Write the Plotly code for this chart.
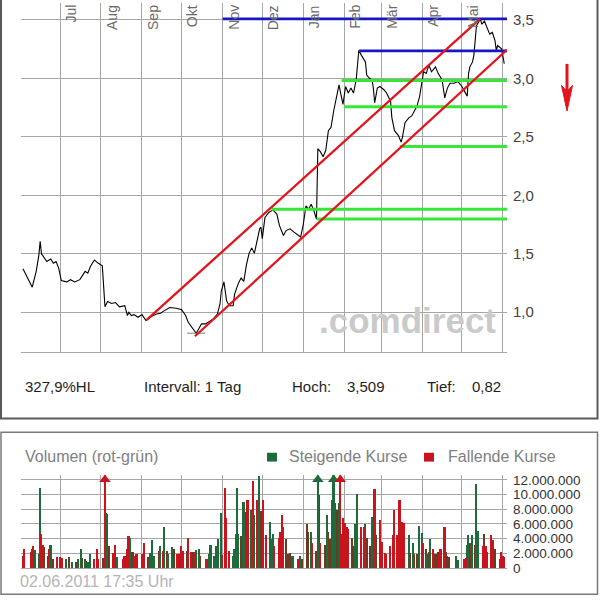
import plotly.graph_objects as go

W, H = 600, 611
def fx(p): return p / W
def fy(p): return 1 - p / H

FONT = "Liberation Sans, Arial, sans-serif"

# ---------------- data ----------------
price_dates = ["2010-06-03","2010-06-10","2010-06-13","2010-06-15","2010-06-16","2010-06-17","2010-06-21","2010-06-24","2010-06-26","2010-06-28","2010-06-30",
"2010-07-02","2010-07-06","2010-07-09","2010-07-12","2010-07-16","2010-07-20","2010-07-22","2010-07-24","2010-07-27","2010-07-30",
"2010-08-02","2010-08-03","2010-08-04","2010-08-06","2010-08-09","2010-08-12","2010-08-15","2010-08-19","2010-08-21","2010-08-22","2010-08-24","2010-08-26","2010-08-29",
"2010-09-01","2010-09-04","2010-09-08","2010-09-12","2010-09-15","2010-09-17","2010-09-22","2010-09-27",
"2010-10-01","2010-10-04","2010-10-06","2010-10-09","2010-10-12","2010-10-14","2010-10-16","2010-10-19","2010-10-21","2010-10-25","2010-10-28","2010-10-30","2010-10-31",
"2010-11-02","2010-11-04","2010-11-06","2010-11-09","2010-11-10","2010-11-13","2010-11-15","2010-11-17","2010-11-19","2010-11-21","2010-11-23","2010-11-25","2010-11-27","2010-11-29","2010-11-30",
"2010-12-01","2010-12-03","2010-12-06","2010-12-09","2010-12-12","2010-12-14","2010-12-17","2010-12-19","2010-12-22","2010-12-25","2010-12-28","2010-12-30",
"2011-01-01","2011-01-03","2011-01-05","2011-01-07","2011-01-09","2011-01-11","2011-01-12","2011-01-14","2011-01-16","2011-01-18","2011-01-20","2011-01-22","2011-01-24","2011-01-26","2011-01-27","2011-01-28","2011-01-30","2011-01-31",
"2011-02-02","2011-02-04","2011-02-06","2011-02-08","2011-02-10","2011-02-11","2011-02-12","2011-02-14","2011-02-17","2011-02-18","2011-02-20","2011-02-22","2011-02-23","2011-02-24","2011-02-26","2011-02-28",
"2011-03-03","2011-03-05","2011-03-08","2011-03-09","2011-03-11","2011-03-14","2011-03-16","2011-03-17","2011-03-19","2011-03-22","2011-03-24","2011-03-26","2011-03-28","2011-03-30",
"2011-04-01","2011-04-02","2011-04-04","2011-04-06","2011-04-08","2011-04-11","2011-04-13","2011-04-16","2011-04-18","2011-04-20","2011-04-22","2011-04-25","2011-04-28",
"2011-05-01","2011-05-03","2011-05-05","2011-05-06","2011-05-07","2011-05-09","2011-05-10","2011-05-11","2011-05-12","2011-05-15","2011-05-16","2011-05-18","2011-05-20","2011-05-22","2011-05-24","2011-05-26","2011-05-27","2011-05-28","2011-05-31",
"2011-06-01","2011-06-02"]
price_values = [1.371,1.214,1.349,1.488,1.606,1.500,1.433,1.455,1.418,1.433,1.377,
1.270,1.259,1.278,1.259,1.278,1.349,1.334,1.391,1.446,1.418,
1.396,1.223,1.046,1.091,1.074,1.082,1.046,1.055,0.971,0.998,0.971,0.979,0.956,
0.979,0.929,0.962,0.984,0.990,1.007,1.040,1.034,
1.020,0.971,0.914,0.872,0.820,0.858,0.900,0.900,0.914,0.942,0.984,1.068,1.181,
1.259,1.097,1.055,1.055,1.152,1.250,1.292,1.264,1.404,1.503,1.550,1.503,1.614,1.713,1.727,
1.629,1.811,1.853,1.875,1.839,1.740,1.656,1.698,1.713,1.685,1.656,1.643,
1.750,1.909,1.881,1.923,1.867,1.797,2.399,2.371,2.329,2.385,2.553,2.581,2.721,2.847,2.889,2.945,2.833,2.777,
2.931,2.875,2.917,2.875,2.987,3.141,3.239,3.197,3.141,3.029,3.001,2.987,2.917,2.791,2.917,2.931,
2.903,2.875,2.805,2.665,2.553,2.511,2.455,2.497,2.623,2.665,2.679,2.721,2.763,2.847,
2.973,3.057,3.043,3.113,3.057,3.099,3.043,2.987,2.833,2.917,2.959,2.959,2.973,
2.931,2.889,2.847,3.043,3.099,3.141,3.197,3.323,3.450,3.509,3.463,3.490,3.435,3.379,3.393,3.323,3.239,3.281,3.253,
3.197,3.127]

# trend channel (red)
channel_upper_dates = ["2010-09-04 14:00", "2011-05-14 17:00"]
channel_upper_values = [0.934, 3.509]
channel_lower_dates = ["2010-10-11 02:00", "2011-06-04 02:00"]
channel_lower_values = [0.794, 3.245]
# horizontal resistance (blue) and support (green) lines
line_end_date = "2011-06-04 02:00"
resistance_starts = ["2010-11-01", "2011-02-12"]
resistance_levels = [3.509, 3.235]
support_starts = ["2011-01-30", "2011-02-01", "2011-03-15", "2010-12-08", "2011-01-11"]
support_levels = [2.981, 2.757, 2.418, 1.881, 1.797]

month_starts = ["2010-07-01","2010-08-01","2010-09-01","2010-10-01","2010-11-01","2010-12-01",
                "2011-01-01","2011-02-01","2011-03-01","2011-04-01","2011-05-01"]
month_labels = ["Jul","Aug","Sep","Okt","Nov","Dez","Jan","Feb","Mär","Apr","Mai"]
price_ticks = [1.0, 1.5, 2.0, 2.5, 3.0, 3.5]
vol_ticks = [0, 2e6, 4e6, 6e6, 8e6, 10e6, 12e6]

vol_dates = ["2010-06-03","2010-06-04","2010-06-09","2010-06-10","2010-06-11","2010-06-12","2010-06-15","2010-06-16","2010-06-17","2010-06-18","2010-06-19","2010-06-22","2010-06-23","2010-06-24","2010-06-26","2010-06-29",
"2010-07-01","2010-07-03","2010-07-06","2010-07-08","2010-07-10","2010-07-13","2010-07-15","2010-07-17","2010-07-18","2010-07-20","2010-07-21","2010-07-22","2010-07-24","2010-07-27","2010-07-29","2010-07-30",
"2010-08-03","2010-08-04","2010-08-05","2010-08-06","2010-08-07","2010-08-10","2010-08-12","2010-08-13","2010-08-18","2010-08-19","2010-08-21","2010-08-22","2010-08-23","2010-08-25","2010-08-26","2010-08-28",
"2010-09-01","2010-09-02","2010-09-03","2010-09-06","2010-09-07","2010-09-09","2010-09-10","2010-09-14","2010-09-15","2010-09-17","2010-09-18","2010-09-20","2010-09-21","2010-09-24","2010-09-25","2010-09-28","2010-09-29",
"2010-10-01","2010-10-02","2010-10-05","2010-10-06","2010-10-08","2010-10-10","2010-10-11","2010-10-12","2010-10-14","2010-10-15","2010-10-20","2010-10-22","2010-10-23","2010-10-26","2010-10-27","2010-10-29","2010-10-31",
"2010-11-01","2010-11-03","2010-11-04","2010-11-06","2010-11-09","2010-11-10","2010-11-11","2010-11-12","2010-11-13","2010-11-15","2010-11-17","2010-11-19","2010-11-20","2010-11-23","2010-11-24","2010-11-25","2010-11-27","2010-11-29","2010-11-30",
"2010-12-02","2010-12-04","2010-12-07","2010-12-08","2010-12-09","2010-12-10","2010-12-14","2010-12-15","2010-12-16","2010-12-17","2010-12-19","2010-12-21","2010-12-22","2010-12-24","2010-12-28","2010-12-30","2010-12-31",
"2011-01-04","2011-01-05","2011-01-07","2011-01-08","2011-01-11","2011-01-12","2011-01-13","2011-01-14","2011-01-18","2011-01-19","2011-01-20","2011-01-21","2011-01-23","2011-01-24","2011-01-25","2011-01-27","2011-01-28","2011-01-29","2011-01-30","2011-01-31",
"2011-02-02","2011-02-03","2011-02-04","2011-02-07","2011-02-08","2011-02-09","2011-02-10","2011-02-11","2011-02-14","2011-02-16","2011-02-17","2011-02-18","2011-02-21","2011-02-22","2011-02-23","2011-02-24","2011-02-25","2011-02-28",
"2011-03-02","2011-03-04","2011-03-05","2011-03-08","2011-03-10","2011-03-11","2011-03-13","2011-03-14","2011-03-15","2011-03-17","2011-03-18","2011-03-22","2011-03-23","2011-03-25","2011-03-26","2011-03-28","2011-03-30",
"2011-04-01","2011-04-02","2011-04-04","2011-04-05","2011-04-06","2011-04-07","2011-04-09","2011-04-11","2011-04-12","2011-04-13","2011-04-14","2011-04-15","2011-04-18","2011-04-19","2011-04-20","2011-04-21","2011-04-27","2011-04-28",
"2011-05-03","2011-05-04","2011-05-05","2011-05-06","2011-05-07","2011-05-09","2011-05-11","2011-05-12","2011-05-13","2011-05-17","2011-05-18","2011-05-19","2011-05-20","2011-05-23","2011-05-24","2011-05-25","2011-05-26","2011-05-30","2011-05-31",
"2011-06-01","2011-06-02"]
vol_mio = [1.6,2.6,2.1,2.6,2.9,2.4,1.8,10.8,4.6,3.1,2.8,1.6,2.6,3.1,1.2,1.5,
1.4,1.3,1.2,1.5,0.8,0.7,1.2,2.5,1.3,1.2,0.9,0.8,1.8,1.2,2.6,1.2,
1.3,13.0,7.4,7.3,3.0,2.0,3.1,1.5,1.2,1.6,2.5,4.3,4.1,2.1,1.6,1.8,
1.8,1.8,3.4,1.5,2.0,3.8,1.6,2.2,2.9,2.2,5.5,2.2,1.8,2.8,2.5,1.8,1.9,
2.9,2.3,2.3,4.0,2.1,2.1,2.1,2.4,2.5,1.6,1.2,1.8,3.1,1.6,2.9,3.9,7.4,
1.7,10.8,6.8,2.2,1.6,2.5,4.6,10.9,4.6,4.3,8.9,7.6,9.2,7.9,11.8,7.2,9.2,12.5,7.7,
9.2,4.5,6.2,3.9,4.6,2.9,4.1,4.9,7.2,5.5,3.9,1.8,2.0,1.6,1.2,1.6,1.2,
6.0,4.8,4.9,3.4,2.2,13.5,9.9,3.4,3.1,7.2,4.8,3.9,9.2,13.0,8.8,7.9,8.8,13.0,4.6,6.8,
6.1,5.5,5.3,4.1,2.9,5.9,2.4,10.0,5.5,5.5,6.0,4.1,2.9,6.9,3.9,10.7,4.4,6.5,
3.5,2.0,1.9,2.9,4.4,7.9,4.4,4.1,9.2,6.2,6.1,4.4,2.0,3.4,1.8,1.9,5.7,
4.7,3.4,2.6,1.8,2.1,3.9,2.6,1.8,1.8,2.1,1.8,2.6,5.6,2.1,1.6,1.5,1.6,1.0,
1.2,1.3,3.1,4.4,3.4,4.4,3.1,11.4,5.0,2.9,4.6,2.9,2.1,4.4,3.7,3.7,2.6,1.2,2.1,
1.6,1.4]
vol_kind = ["R","R","R","G","R","G","G","G","R","R","B","B","R","G","B","R",
"R","R","G","B","G","B","G","G","B","G","B","G","G","R","R","R",
"B","R","G","G","B","R","R","G","R","R","R","R","G","B","R","R",
"R","R","R","B","G","G","G","B","G","R","G","B","G","G","B","R","B",
"R","R","B","R","R","B","R","G","G","B","R","G","G","G","G","G","G",
"R","R","R","R","G","G","G","G","G","B","G","B","R","G","R","G","R","G","B",
"R","R","G","G","G","R","R","R","R","G","B","B","B","G","R","G","B",
"B","B","G","R","B","G","B","R","B","G","B","B","G","G","G","B","G","R","R","R",
"R","R","R","B","B","G","G","G","R","R","G","B","B","G","B","R","B","R",
"R","R","R","R","R","R","R","B","R","R","R","G","B","G","B","B","G",
"G","R","B","G","B","G","R","B","B","B","R","R","R","B","B","B","G","G",
"R","R","G","G","B","G","B","G","G","R","B","R","R","R","B","R","B","R","R",
"R","R"]

# ---------------- figure ----------------
X_RANGE = ["2010-06-01 12:00", "2011-06-04 02:00"]
Y_RANGE = [0.660, 3.645]
V_MAX = 12.63e6
GRID = "#a6a6a6"

fig = go.Figure()

fig.add_trace(go.Scatter(x=price_dates, y=price_values, mode="lines",
                         line=dict(color="black", width=1.1), xaxis="x", yaxis="y"))
# small markers at the period high / low
i_hi = price_values.index(max(price_values))
i_lo = price_values.index(min(price_values))
fig.add_trace(go.Scatter(x=[price_dates[i_hi], price_dates[i_lo]],
                         y=[price_values[i_hi], price_values[i_lo]], mode="markers",
                         marker=dict(symbol="line-ew", size=13, line=dict(color="#808080", width=1)),
                         xaxis="x", yaxis="y"))
for s, v in zip(support_starts, support_levels):
    fig.add_trace(go.Scatter(x=[s, line_end_date], y=[v, v], mode="lines",
                             line=dict(color="#35e835", width=3), xaxis="x", yaxis="y"))
for s, v in zip(resistance_starts, resistance_levels):
    fig.add_trace(go.Scatter(x=[s, line_end_date], y=[v, v], mode="lines",
                             line=dict(color="#1717c4", width=2.6), xaxis="x", yaxis="y"))
fig.add_trace(go.Scatter(x=channel_upper_dates, y=channel_upper_values, mode="lines",
                         line=dict(color="#e3141b", width=2.3), xaxis="x", yaxis="y"))
fig.add_trace(go.Scatter(x=channel_lower_dates, y=channel_lower_values, mode="lines",
                         line=dict(color="#e3141b", width=2.3), xaxis="x", yaxis="y"))

colors = {"G": "#1d6b3b", "R": "#c8141c", "B": "#6a3a22"}
for k in ["B", "G", "R"]:
    xs = [d for d, kk in zip(vol_dates, vol_kind) if kk == k]
    ys = [v * 1e6 for v, kk in zip(vol_mio, vol_kind) if kk == k]
    fig.add_trace(go.Bar(x=xs, y=ys, marker=dict(color=colors[k], line=dict(width=0)),
                         width=86400000 * 1.25, xaxis="x2", yaxis="y2"))
# clipped bars get an arrow marker at the top
clip_x = [d for d, v in zip(vol_dates, vol_mio) if v * 1e6 > V_MAX]
clip_c = [colors[k] for k, v in zip(vol_kind, vol_mio) if v * 1e6 > V_MAX]
fig.add_trace(go.Scatter(x=clip_x, y=[12.05e6] * len(clip_x), mode="markers",
                         marker=dict(symbol="triangle-up", size=10, color=clip_c),
                         cliponaxis=False, xaxis="x2", yaxis="y2"))

xcommon = dict(type="date", range=X_RANGE, showgrid=True, gridcolor=GRID, gridwidth=1,
               tick0="2010-07-01", dtick="M1", showticklabels=False, ticks="",
               zeroline=False, showline=True, linecolor=GRID, linewidth=1)
fig.update_layout(
    width=W, height=H, autosize=False, margin=dict(l=0, r=0, t=0, b=0),
    paper_bgcolor="white", plot_bgcolor="white", showlegend=False,
    separators=",.", barmode="overlay", bargap=0,
    font=dict(family=FONT),
    xaxis=dict(domain=[fx(21), fx(507)], anchor="y", **xcommon),
    yaxis=dict(domain=[fy(355.3), 1], range=Y_RANGE, side="right", anchor="x",
               tickvals=price_ticks, tickformat=".1f", showgrid=True, gridcolor=GRID,
               zeroline=False, showline=False, ticks="", ticklabelstandoff=5,
               tickfont=dict(size=15, color="#444444", family=FONT)),
    xaxis2=dict(domain=[fx(21), fx(507)], anchor="y2", **xcommon),
    yaxis2=dict(domain=[fy(575.3), fy(481)], range=[0, V_MAX], side="right", anchor="x2",
                tickvals=vol_ticks, tickformat=",d", showgrid=True, gridcolor=GRID,
                zeroline=False, showline=False, ticks="", ticklabelstandoff=5,
                tickfont=dict(size=13.5, color="#333333", family=FONT)),
)

ann = []
for d, lab in zip(month_starts, month_labels):
    ann.append(dict(x=d, xref="x", y=1, yref="paper", text=lab, textangle=-90,
                    xanchor="center", yanchor="top", xshift=10.5, showarrow=False,
                    font=dict(size=14, color="#6a6a6a", family=FONT)))
hi = max(price_values)
lo = min(price_values)
hl = (hi / lo - 1) * 100
def de(v, n):
    return f"{v:.{n}f}".replace(".", ",")
txt = dict(showarrow=False, xref="paper", yref="paper", xanchor="left", yanchor="middle")
dark = dict(size=15, color="#1e1e1e", family=FONT)
ann += [
    dict(x=fx(23), y=fy(391), text=de(hl, 1) + "%HL", font=dark, **txt),
    dict(x=fx(142), y=fy(391), text="Intervall: 1 Tag", font=dark, **txt),
    dict(x=fx(290), y=fy(391), text="Hoch:", font=dark, **txt),
    dict(x=fx(345), y=fy(391), text=de(hi, 3), font=dark, **txt),
    dict(x=fx(425), y=fy(391), text="Tief:", font=dark, **txt),
    dict(x=fx(470), y=fy(391), text=de(lo, 2), font=dark, **txt),
    dict(x=fx(23), y=fy(462), text="Volumen (rot-grün)", font=dict(size=16, color="#808080", family=FONT), **txt),
    dict(x=fx(287), y=fy(462), text="Steigende Kurse", font=dict(size=16, color="#808080", family=FONT), **txt),
    dict(x=fx(446), y=fy(462), text="Fallende Kurse", font=dict(size=16, color="#808080", family=FONT), **txt),
    dict(x=fx(18), y=fy(589), text="02.06.2011 17:35 Uhr", font=dict(size=16, color="#b4b4b4", family=FONT), **txt),
    dict(x=fx(407.5), y=fy(323), text="<b>.comdirect</b>", showarrow=False, xref="paper", yref="paper",
         xanchor="center", yanchor="middle", font=dict(size=35, color="#cacaca", family=FONT)),
]
fig.update_layout(annotations=ann)

shapes = [
    dict(type="rect", xref="paper", yref="paper", x0=fx(1), x1=fx(597.5), y0=fy(423), y1=fy(-10),
         line=dict(color="#5a5a5a", width=2)),
    dict(type="rect", xref="paper", yref="paper", x0=fx(1), x1=fx(597.5), y0=fy(602), y1=fy(437),
         line=dict(color="#7a7a7a", width=1.5)),
    dict(type="rect", xref="paper", yref="paper", x0=fx(267), x1=fx(277), y0=fy(467), y1=fy(458),
         fillcolor=colors["G"], line=dict(width=0)),
    dict(type="rect", xref="paper", yref="paper", x0=fx(424), x1=fx(434), y0=fy(467), y1=fy(458),
         fillcolor=colors["R"], line=dict(width=0)),
    dict(type="line", xref="paper", yref="paper", x0=fx(567), x1=fx(567), y0=fy(62), y1=fy(90),
         line=dict(color="#e3141b", width=3)),
    dict(type="path", xref="paper", yref="paper",
         path=f"M {fx(561.5)},{fy(84)} L {fx(567)},{fy(110)} L {fx(572.5)},{fy(84)} L {fx(567)},{fy(90)} Z",
         fillcolor="#e3141b", line=dict(color="#e3141b", width=1)),
]
fig.update_layout(shapes=shapes)

fig.write_html("out.html",
               config={"displayModeBar": False, "responsive": False},
               post_script="document.body.style.margin='0';document.body.style.overflow='hidden';")
